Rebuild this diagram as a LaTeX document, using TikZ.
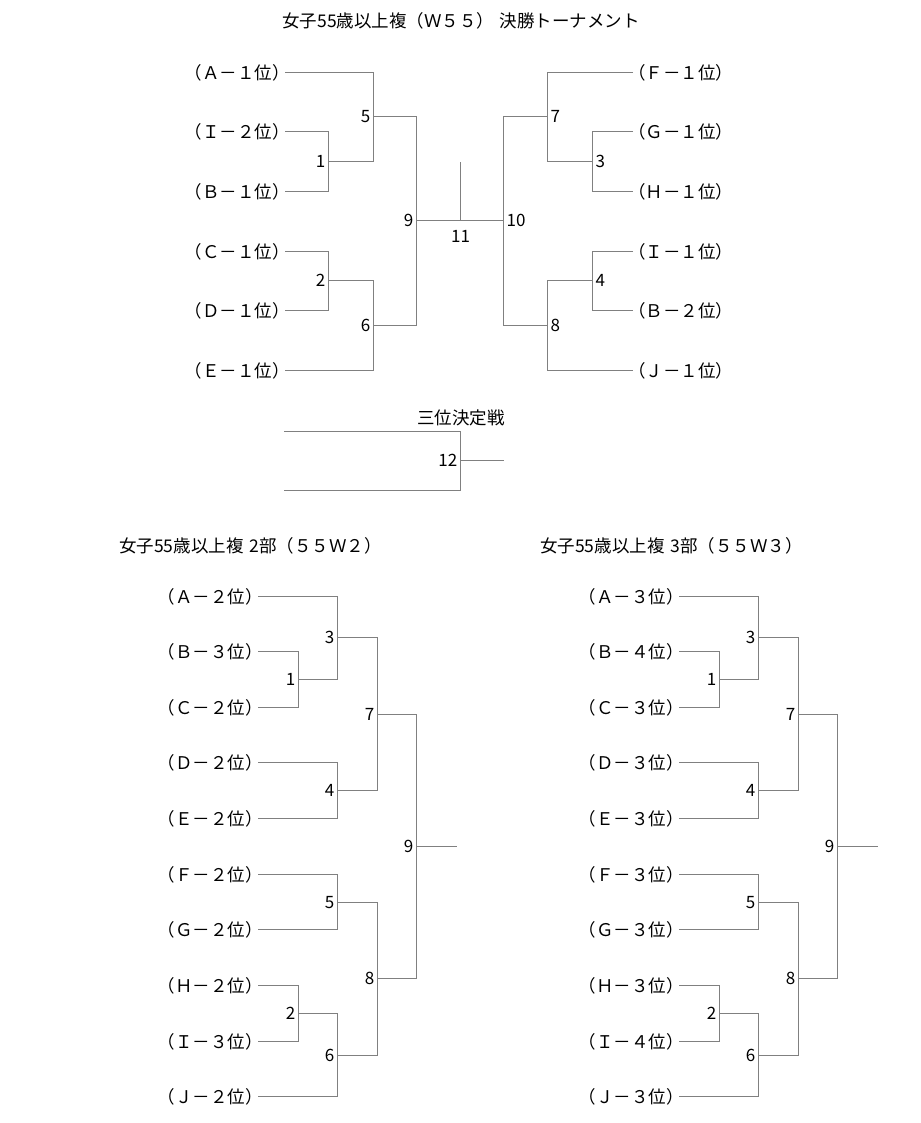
\documentclass[tikz,border=0pt]{standalone}
\usepackage{fontspec}
\setmainfont{Noto Sans CJK JP}
\usepackage{tikz}

\begin{document}
\begin{tikzpicture}[x=1pt,y=-1pt,
  team/.style={inner ysep=0pt,inner xsep=-5pt,font=\fontsize{17.5}{17.5}\selectfont},
  num/.style={inner sep=0pt,font=\fontsize{17}{17}\selectfont},
  head/.style={inner sep=0pt,font=\fontsize{17.5}{17.5}\selectfont},
  ln/.style={draw=black!50,line width=1pt}]
\useasboundingbox[fill=white] (0,0) rectangle (920,1123);

% W55
\node[head] (t0) at (461,21) {女子55歳以上複（Ｗ５５）\hspace{.3em}決勝トーナメント};
\foreach \nm/\tx/\yy in {la/Ａ－１/72.5,li/Ｉ－２/131.5,lb/Ｂ－１/191.5,lc/Ｃ－１/251.5,ld/Ｄ－１/310.5,le/Ｅ－１/370.5}
  \node[team,anchor=east] (\nm) at (285,\yy) {（\tx 位）};
\foreach \nm/\tx/\yy in {rf/Ｆ－１/72.5,rg/Ｇ－１/131.5,rh/Ｈ－１/191.5,ri/Ｉ－１/251.5,rb/Ｂ－２/310.5,rj/Ｊ－１/370.5}
  \node[team,anchor=west] (\nm) at (633,\yy) {（\tx 位）};

\coordinate (m1) at (328.5,161.5);
\coordinate (m2) at (328.5,280.5);
\coordinate (m5) at (373.5,116.5);
\coordinate (m6) at (373.5,325.5);
\coordinate (m9) at (416.5,220.5);
\coordinate (m11) at (460.5,220.5);
\coordinate (m11t) at (460.5,162);
\coordinate (m10) at (503.5,220.5);
\coordinate (m7) at (547.5,116.5);
\coordinate (m3) at (592.5,161.5);
\coordinate (m4) at (592.5,280.5);
\coordinate (m8) at (547.5,325.5);

\draw[ln] (li.east) -| (m1) |- (lb.east);
\draw[ln] (lc.east) -| (m2) |- (ld.east);
\draw[ln] (la.east) -| (m5) |- (m1);
\draw[ln] (m2) -| (m6) |- (le.east);
\draw[ln] (m5) -| (m9) |- (m6);
\draw[ln] (m9) -- (m10);
\draw[ln] (m11) -- (m11t);
\draw[ln] (rg.west) -| (m3) |- (rh.west);
\draw[ln] (ri.west) -| (m4) |- (rb.west);
\draw[ln] (rf.west) -| (m7) |- (m3);
\draw[ln] (m4) -| (m8) |- (rj.west);
\draw[ln] (m7) -| (m10) |- (m8);

\foreach \m in {1,2,5,6,9}
  \node[num,anchor=east] (n\m) at ([xshift=-3pt]m\m) {\m};
\foreach \m in {3,4,7,8,10}
  \node[num,anchor=west] (n\m) at ([xshift=3pt]m\m) {\m};
\node[num,anchor=north] (n11) at ([yshift=-10pt]m11) {11};

% third place
\node[head] (t3) at (461,418) {三位決定戦};
\coordinate (p1) at (284,431.5);
\coordinate (p2) at (284,490.5);
\coordinate (m12) at (460.5,460.5);
\coordinate (m12e) at (504,460.5);
\draw[ln] (p1) -| (m12) |- (p2);
\draw[ln] (m12) -- (m12e);
\node[num,anchor=east] (n12) at ([xshift=-3pt]m12) {12};

% 2部 / 3部
\foreach \s/\hs/\rka/\rkb in {0/2/２/３,421/3/３/４}{
\begin{scope}[xshift=\s]
\node[head,anchor=west] (hd) at (119,546) {女子55歳以上複\hspace{.35em}{\hs}部（５５Ｗ\rka）};
\foreach \nm/\tx/\yy in {a/Ａ－\rka/596.5,b/Ｂ－\rkb/651.5,c/Ｃ－\rka/707.5,d/Ｄ－\rka/762.5,e/Ｅ－\rka/818.5,f/Ｆ－\rka/874.5,g/Ｇ－\rka/929.5,h/Ｈ－\rka/985.5,i/Ｉ－\rkb/1041.5,j/Ｊ－\rka/1096.5}
  \node[team,anchor=east] (\nm) at (258,\yy) {（\tx 位）};

\coordinate (b1) at (298.5,679.5);
\coordinate (b3) at (337.5,637.5);
\coordinate (b4) at (337.5,790.5);
\coordinate (b7) at (377.5,714.5);
\coordinate (b5) at (337.5,902.5);
\coordinate (b2) at (298.5,1013.5);
\coordinate (b6) at (337.5,1055.5);
\coordinate (b8) at (377.5,978.5);
\coordinate (b9) at (416.5,846.5);
\coordinate (b9e) at (456.5,846.5);

\draw[ln] (b.east) -| (b1) |- (c.east);
\draw[ln] (a.east) -| (b3) |- (b1);
\draw[ln] (d.east) -| (b4) |- (e.east);
\draw[ln] (b3) -| (b7) |- (b4);
\draw[ln] (f.east) -| (b5) |- (g.east);
\draw[ln] (h.east) -| (b2) |- (i.east);
\draw[ln] (b2) -| (b6) |- (j.east);
\draw[ln] (b5) -| (b8) |- (b6);
\draw[ln] (b7) -| (b9) |- (b8);
\draw[ln] (b9) -- (b9e);

\foreach \m in {1,...,9}
  \node[num,anchor=east] (n\m) at ([xshift=-3pt]b\m) {\m};
\end{scope}
}
\end{tikzpicture}
\end{document}
